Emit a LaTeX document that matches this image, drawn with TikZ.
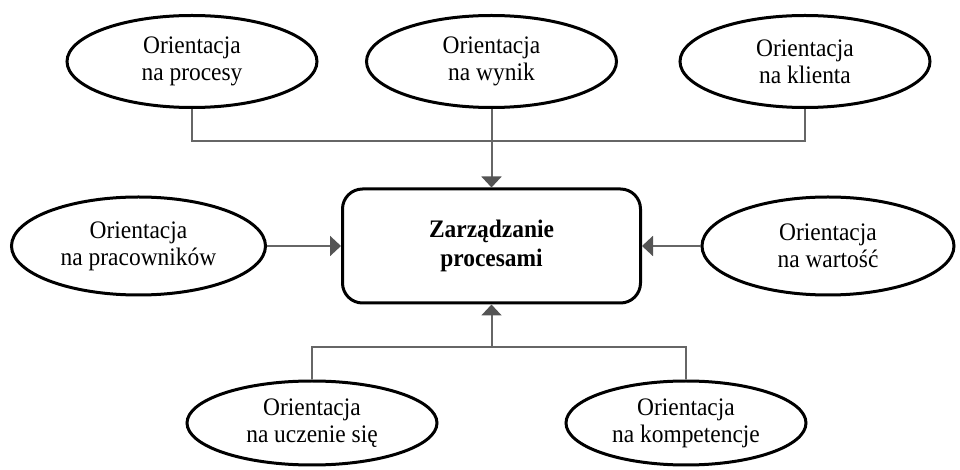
\documentclass[tikz,border=0pt]{standalone}
\usepackage{fontspec}
\setmainfont{Liberation Serif}[FakeStretch=0.93]
\usetikzlibrary{shapes.geometric,arrows.meta}

\begin{document}
\begin{tikzpicture}
  [x=0.5pt,y=-0.5pt,
    every node/.style={font=\fontsize{12.6}{13.4}\selectfont,align=center},
    orient/.style={ellipse,draw,line width=1.5pt,inner sep=0pt,minimum width=125pt,minimum height=46pt},
    centre/.style={draw,rounded corners=10pt,line width=1.5pt,minimum width=149pt,minimum height=57pt,
      font=\fontsize{12.6}{14.2}\selectfont\bfseries},
    link/.style={draw=black!60,line width=1pt},
    arr/.style={link,-{Triangle[width=10pt,length=5.5pt,color=black!67]}},
]
  \useasboundingbox (0,0) rectangle (960,470);
  \node[orient] (procesy) at (192,61.5) {Orientacja\\na procesy};
  \node[orient] (wynik) at (491.5,61.5) {Orientacja\\na wynik};
  \node[orient] (klient) at (805,61.5) {Orientacja\\na klienta};
  \node[centre] (zp) at (491.5,246) {Zarządzanie\\procesami};
  \node[orient,minimum height=49pt,minimum width=127pt] (pracownicy) at (138.5,246) {Orientacja\\na pracowników};
  \node[orient,minimum height=49pt,minimum width=126pt] (wartosc) at (828,246) {Orientacja\\na wartość};
  \node[orient,minimum height=42pt] (uczenie) at (312,423) {Orientacja\\na uczenie się};
  \node[orient,minimum height=42pt,minimum width=120pt] (kompetencje) at (686,423) {Orientacja\\na kompetencje};

  \coordinate (top) at (491.5,141.5);
  \coordinate (bottom) at (491.5,347);

  \draw[link] (procesy.south) |- (top) -| (klient.south);
  \draw[arr] (wynik.south) -- (zp.north);
  \draw[arr] (pracownicy.east) -- (zp.west);
  \draw[arr] (wartosc.west) -- (zp.east);
  \draw[link] (uczenie.north) |- (bottom) -| (kompetencje.north);
  \draw[arr] (bottom) -- (zp.south);
\end{tikzpicture}
\end{document}
